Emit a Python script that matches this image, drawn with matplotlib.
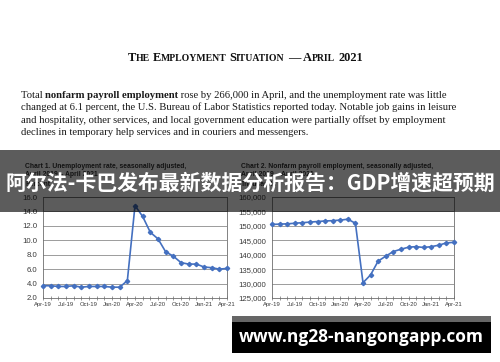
import matplotlib
matplotlib.use('Agg')
import matplotlib.pyplot as plt
from matplotlib.ticker import FixedLocator, FuncFormatter
from matplotlib.patches import Rectangle

W, H = 500, 362

months = ['Apr-19', 'May-19', 'Jun-19', 'Jul-19', 'Aug-19', 'Sep-19', 'Oct-19', 'Nov-19', 'Dec-19',
          'Jan-20', 'Feb-20', 'Mar-20', 'Apr-20', 'May-20', 'Jun-20', 'Jul-20', 'Aug-20', 'Sep-20',
          'Oct-20', 'Nov-20', 'Dec-20', 'Jan-21', 'Feb-21', 'Mar-21', 'Apr-21']
tick_labels = months[::3]

unemployment = [3.7, 3.7, 3.6, 3.6, 3.7, 3.5, 3.6, 3.6, 3.6, 3.5, 3.5, 4.4, 14.8,
                13.3, 11.1, 10.2, 8.4, 7.8, 6.9, 6.7, 6.7, 6.3, 6.2, 6.0, 6.1]
payroll = [150500, 150600, 150700, 150900, 151100, 151300, 151500, 151700, 151800,
           152000, 152300, 150900, 130300, 133000, 137800, 139500, 141100, 141900,
           142600, 142800, 142500, 142800, 143300, 144100, 144300]

title_words = ['The', 'Employment', 'Situation', '\u2014', 'April', '2021']
para_lines = [
    [('Total ', 'normal'), ('nonfarm payroll employment', 'bold'),
     (' rose by 266,000 in April, and the unemployment rate was little', 'normal')],
    [('changed at 6.1 percent, the U.S. Bureau of Labor Statistics reported today. Notable job gains in leisure', 'normal')],
    [('and hospitality, other services, and local government education were partially offset by employment', 'normal')],
    [('declines in temporary help services and in couriers and messengers.', 'normal')],
]
chart1_title = ['Chart 1. Unemployment rate, seasonally adjusted,', 'April 2019 \u2013 April 2021', 'Percent']
chart2_title = ['Chart 2. Nonfarm payroll employment, seasonally adjusted,', 'April 2019 \u2013 April 2021', 'Thousands']
banner_text = '阿尔法-卡巴发布最新数据分析报告：GDP增速超预期'
url_text = 'www.ng28-nangongapp.com'

BLUE = '#4470c0'
SERIF = 'Liberation Serif'
SANS = 'Liberation Sans'

fig = plt.figure(figsize=(W / 100, H / 100), dpi=100)
fig.patch.set_facecolor('white')
renderer = fig.canvas.get_renderer()


def fx(x):
    return x / W


def fy(y):
    return 1 - y / H


def width_of(s, **kw):
    # measure with guard dots so spaces count
    t1 = fig.text(0, 0, '.' + s + '.', **kw)
    t2 = fig.text(0, 0, '..', **kw)
    w = t1.get_window_extent(renderer).width - t2.get_window_extent(renderer).width
    t1.remove()
    t2.remove()
    return w


def run_text(x, y, pieces):
    for s, kw in pieces:
        fig.text(fx(x), fy(y), s, va='baseline', ha='left', **kw)
        x += width_of(s, **kw)
    return x


# title in small caps
big = dict(family=SERIF, weight='bold', fontsize=8.9, color='#111111')
small = dict(family=SERIF, weight='bold', fontsize=7.0, color='#111111')
pieces = []
for i, wd in enumerate(title_words):
    if i > 0:
        pieces.append((' ', big))
    if wd.isalpha():
        pieces.append((wd[0], big))
        pieces.append((wd[1:].upper(), small))
    else:
        pieces.append((wd, big))
run_text(128, 61, pieces)

# paragraph
for i, line in enumerate(para_lines):
    pcs = [(s, dict(family=SERIF, weight=wt, fontsize=7.7, color='#1a1a1a')) for s, wt in line]
    run_text(21, 98 + i * 12.4, pcs)


def make_chart(left, right, values, ylim, yticks, fmt, titles, title_x):
    ax = fig.add_axes([fx(left), fy(298), (right - left) / W, 101 / H])
    x = list(range(len(values)))
    ax.plot(x, values, color=BLUE, lw=1.2, marker='D', ms=2.2, zorder=3, clip_on=False)
    ax.set_xlim(0, len(values) - 1)
    ax.set_ylim(*ylim)
    ax.yaxis.set_major_locator(FixedLocator(yticks))
    ax.yaxis.set_major_formatter(FuncFormatter(fmt))
    ax.xaxis.set_major_locator(FixedLocator(x[::3]))
    ax.xaxis.set_minor_locator(FixedLocator(x))
    ax.set_xticklabels(tick_labels)
    ax.grid(axis='y', color='#8c8c8c', lw=0.6)
    ax.set_axisbelow(True)
    for sp in ax.spines.values():
        sp.set_color('#6e6e6e')
        sp.set_linewidth(0.6)
    ax.tick_params(axis='y', length=0, labelsize=5.6, labelcolor='#3a3a3a', pad=4)
    ax.tick_params(axis='x', which='both', direction='inout', length=2.5, width=0.5,
                   color='#6e6e6e', labelsize=4.2, labelcolor='#3a3a3a', pad=1.5)
    for lab in ax.get_yticklabels() + ax.get_xticklabels():
        lab.set_family(SANS)
    for i, s in enumerate(titles):
        fig.text(fx(title_x), fy(167.5 + i * 9), s, family=SANS, weight='bold',
                 fontsize=4.9, color='#333333', va='baseline')
    return ax


make_chart(43, 227, unemployment, (2, 16), [2, 4, 6, 8, 10, 12, 14, 16],
           lambda v, p: '%.1f' % v, chart1_title, 25)
make_chart(272, 454, payroll, (125000, 160000), list(range(125000, 160001, 5000)),
           lambda v, p: '{:,}'.format(int(v)), chart2_title, 241)

# overlay banner
fig.patches.append(Rectangle((0, fy(212)), 1, (212 - 150) / H, transform=fig.transFigure,
                             facecolor='black', alpha=0.64, edgecolor='none', zorder=10))
fig.text(0.5, fy(183), banner_text, ha='center', va='center', color='white',
         family=['Noto Sans CJK SC', 'DejaVu Sans'], weight='bold', fontsize=15, zorder=11)

# url box
fig.patches.append(Rectangle((fx(232), fy(353)), (491 - 232) / W, (353 - 316) / H,
                             transform=fig.transFigure, facecolor='black', edgecolor='none', zorder=10))
fig.patches.append(Rectangle((fx(232), fy(322)), (491 - 232) / W, (322 - 316) / H,
                             transform=fig.transFigure, facecolor='#666666', edgecolor='none', zorder=11))
fig.text(fx(361), fy(342), url_text, ha='center', va='baseline', color='white',
         family='Open Sans', weight='bold', fontsize=12.5, zorder=12)

fig.savefig('out.png', dpi=100)
